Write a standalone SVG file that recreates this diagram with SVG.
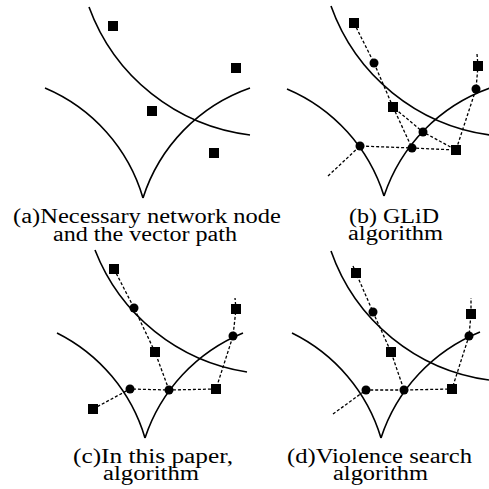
<svg xmlns="http://www.w3.org/2000/svg" width="489" height="489" viewBox="0 0 489 489">
<style>
.arc{fill:none;stroke:#000;stroke-width:1.6}
.dash{fill:none;stroke:#000;stroke-width:1.3;stroke-dasharray:3,2}
.sq{fill:#000}
.dot{fill:#000}
.lbl{font-size:20px;fill:#000}
</style>
<rect width="489" height="489" fill="#fff"/>
<g id="curves">
<path class="arc" d="M89,7 A197,197 0 0 0 250,135"/>
<path class="arc" d="M45,88 A172,172 0 0 1 143,198"/>
<path class="arc" d="M143,198 A172,172 0 0 1 250,88"/>
<path class="arc" d="M331,6 A197,197 0 0 0 490,135"/>
<path class="arc" d="M287,89 A172,172 0 0 1 384,196"/>
<path class="arc" d="M384,196 A172,172 0 0 1 490,88"/>
<path class="arc" d="M95,250 A195,195 0 0 0 247,372"/>
<path class="arc" d="M57,333 A172,172 0 0 1 145,438"/>
<path class="arc" d="M145,438 A172,172 0 0 1 243,333"/>
<path class="arc" d="M331,251 A195,195 0 0 0 489,380"/>
<path class="arc" d="M292,333 A172,172 0 0 1 381,438"/>
<path class="arc" d="M381,438 A172,172 0 0 1 480,332"/>
</g>
<g id="connectors">
<path class="dash" d="M477,54 L478,66"/>
<path class="dash" d="M354,23 L374,63 L393,107 L423,132 L456,150 L476,89 L478,66"/>
<path class="dash" d="M393,107 L412,148"/>
<path class="dash" d="M328,176 L360,146 L412,148 L456,150"/>
<path class="dash" d="M114,269 L134,308 L155,352 L169,390"/>
<path class="dash" d="M93,409 L130,389 L169,390 L216,389 L233,336 L236,309 L235,298"/>
<path class="dash" d="M353,266 L356,273 L373,312 L391,352 L404,390"/>
<path class="dash" d="M333,414 L366,390 L404,390 L452,389 L469,336 L471,314 L471,298"/>
</g>
<g id="a-s1"><rect class="sq" x="108" y="21" width="10" height="10"/></g>
<g id="a-s2"><rect class="sq" x="231" y="63" width="10" height="10"/></g>
<g id="a-s3"><rect class="sq" x="147" y="106" width="10" height="10"/></g>
<g id="a-s4"><rect class="sq" x="209" y="148" width="10" height="10"/></g>
<g id="b-s1"><rect class="sq" x="349" y="18" width="10" height="10"/></g>
<g id="b-s2"><rect class="sq" x="473" y="61" width="10" height="10"/></g>
<g id="b-s3"><rect class="sq" x="388" y="102" width="10" height="10"/></g>
<g id="b-s4"><rect class="sq" x="451" y="145" width="10" height="10"/></g>
<g id="b-c1"><circle class="dot" cx="374" cy="63" r="4.5"/></g>
<g id="b-c2"><circle class="dot" cx="476" cy="89" r="4.5"/></g>
<g id="b-c3"><circle class="dot" cx="423" cy="132" r="4.5"/></g>
<g id="b-c4"><circle class="dot" cx="412" cy="148" r="4.5"/></g>
<g id="b-c5"><circle class="dot" cx="360" cy="146" r="4.5"/></g>
<g id="c-s1"><rect class="sq" x="109" y="264" width="10" height="10"/></g>
<g id="c-s2"><rect class="sq" x="231" y="304" width="10" height="10"/></g>
<g id="c-s3"><rect class="sq" x="150" y="347" width="10" height="10"/></g>
<g id="c-s4"><rect class="sq" x="211" y="384" width="10" height="10"/></g>
<g id="c-s5"><rect class="sq" x="88" y="404" width="10" height="10"/></g>
<g id="c-c1"><circle class="dot" cx="134" cy="308" r="4.5"/></g>
<g id="c-c2"><circle class="dot" cx="233" cy="336" r="4.5"/></g>
<g id="c-c3"><circle class="dot" cx="169" cy="390" r="4.5"/></g>
<g id="c-c4"><circle class="dot" cx="130" cy="389" r="4.5"/></g>
<g id="d-s1"><rect class="sq" x="351" y="268" width="10" height="10"/></g>
<g id="d-s2"><rect class="sq" x="466" y="309" width="10" height="10"/></g>
<g id="d-s3"><rect class="sq" x="386" y="347" width="10" height="10"/></g>
<g id="d-s4"><rect class="sq" x="447" y="384" width="10" height="10"/></g>
<g id="d-c1"><circle class="dot" cx="373" cy="312" r="4.5"/></g>
<g id="d-c2"><circle class="dot" cx="469" cy="336" r="4.5"/></g>
<g id="d-c3"><circle class="dot" cx="404" cy="390" r="4.5"/></g>
<g id="d-c4"><circle class="dot" cx="366" cy="390" r="4.5"/></g>
<g id="labels" font-family="'Liberation Serif', 'Times New Roman', Times, serif">
<text class="lbl" x="13" y="223" textLength="268" lengthAdjust="spacingAndGlyphs">(a)Necessary network node</text>
<text class="lbl" x="53" y="241" textLength="184" lengthAdjust="spacingAndGlyphs">and the vector path</text>
<text class="lbl" x="349" y="223" textLength="90" lengthAdjust="spacingAndGlyphs">(b) GLiD</text>
<text class="lbl" x="348" y="240" textLength="95" lengthAdjust="spacingAndGlyphs">algorithm</text>
<text class="lbl" x="73" y="463" textLength="160" lengthAdjust="spacingAndGlyphs">(c)In this paper,</text>
<text class="lbl" x="103" y="480" textLength="96" lengthAdjust="spacingAndGlyphs">algorithm</text>
<text class="lbl" x="287" y="463" textLength="185" lengthAdjust="spacingAndGlyphs">(d)Violence search</text>
<text class="lbl" x="333" y="480" textLength="95" lengthAdjust="spacingAndGlyphs">algorithm</text>
</g>
</svg>
